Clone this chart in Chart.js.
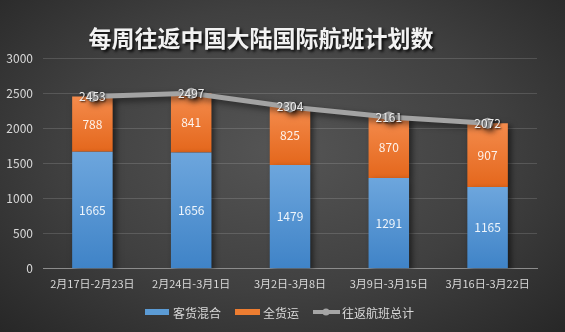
<!DOCTYPE html>
<html>
<head>
<meta charset="utf-8">
<script src="https://cdn.jsdelivr.net/npm/chart.js@4"></script>
<style>
  html, body { margin: 0; padding: 0; }
  body {
    width: 565px; height: 332px; overflow: hidden;
    background: radial-gradient(ellipse at 50% 45%, #555555 0%, #404040 55%, #272727 100%);
  }
</style>
</head>
<body>
<canvas id="flights" width="565" height="332"></canvas>
<script>
// Weekly round-trip international flights, mainland China
const weeks = ["2月17日-2月23日", "2月24日-3月1日", "3月2日-3月8日", "3月9日-3月15日", "3月16日-3月22日"];
const mixed = [1665, 1656, 1479, 1291, 1165];   // 客货混合
const cargo = [788, 841, 825, 870, 907];        // 全货运
const total = [2453, 2497, 2304, 2161, 2072];   // 往返航班总计
const yTicks = [0, 500, 1000, 1500, 2000, 2500, 3000];

const FONT = '"Noto Sans CJK SC", "Noto Sans", sans-serif';

// gradient for one stacked segment, light at its top, darker at its base
function segGrad(ctx, lo, hi, top, bottom) {
  const c = ctx.chart;
  const y = c.scales.y;
  if (!c.chartArea || !y || ctx.dataIndex === undefined) return top;
  const i = ctx.dataIndex;
  const y0 = y.getPixelForValue(hi[i]);
  const y1 = y.getPixelForValue(lo ? lo[i] : 0);
  if (!isFinite(y0) || !isFinite(y1)) return top;
  const g = c.ctx.createLinearGradient(0, y0, 0, y1);
  g.addColorStop(0, top);
  g.addColorStop(1, bottom);
  return g;
}

// drop shadow under bars and line
const shadowPlugin = {
  id: "shadows",
  beforeDatasetDraw(chart) {
    const ctx = chart.ctx;
    ctx.save();
    ctx.shadowColor = "rgba(0,0,0,0.55)";
    ctx.shadowBlur = 6;
    ctx.shadowOffsetX = 3;
    ctx.shadowOffsetY = 3;
  },
  afterDatasetDraw(chart) {
    chart.ctx.restore();
  }
};

// value labels, title and legend
const labelPlugin = {
  id: "labels",
  afterDraw(chart) {
    const ctx = chart.ctx;
    ctx.save();
    ctx.textAlign = "center";
    ctx.textBaseline = "middle";
    ctx.font = "12px " + FONT;

    [0, 1].forEach(di => {
      const meta = chart.getDatasetMeta(di);
      const vals = chart.data.datasets[di].data;
      meta.data.forEach((bar, i) => {
        ctx.fillStyle = "rgba(255,255,255,0.9)";
        ctx.fillText(vals[i], bar.x, (bar.y + bar.base) / 2);
      });
    });

    chart.getDatasetMeta(2).data.forEach((pt, i) => {
      ctx.shadowColor = "rgba(0,0,0,0.85)";
      ctx.shadowBlur = 2;
      ctx.shadowOffsetX = 1;
      ctx.shadowOffsetY = 1;
      ctx.fillStyle = "#ececec";
      ctx.fillText(total[i], pt.x, pt.y);
    });

    // title
    ctx.font = "bold 23px " + FONT;
    ctx.shadowColor = "rgba(0,0,0,0.9)";
    ctx.shadowBlur = 3;
    ctx.shadowOffsetX = 2;
    ctx.shadowOffsetY = 2;
    ctx.fillStyle = "#f2f2f2";
    ctx.fillText("每周往返中国大陆国际航班计划数", 261, 38);

    // legend
    ctx.shadowColor = "transparent";
    ctx.font = "12px " + FONT;
    ctx.textAlign = "left";
    ctx.fillStyle = "#5b9bd5";
    ctx.fillRect(145, 309, 24, 6);
    ctx.fillStyle = "#ed7d31";
    ctx.fillRect(235, 309, 25, 6);
    ctx.strokeStyle = "#a5a5a5";
    ctx.lineWidth = 4;
    ctx.beginPath();
    ctx.moveTo(313, 312);
    ctx.lineTo(340, 312);
    ctx.stroke();
    ctx.beginPath();
    ctx.arc(326, 312, 3.5, 0, Math.PI * 2);
    ctx.fillStyle = "#a5a5a5";
    ctx.fill();
    ctx.fillStyle = "#d9d9d9";
    ctx.fillText("客货混合", 173, 313);
    ctx.fillText("全货运", 263, 313);
    ctx.fillText("往返航班总计", 342, 313);
    ctx.restore();
  }
};

new Chart(document.getElementById("flights"), {
  type: "bar",
  data: {
    labels: weeks,
    datasets: [
      {
        label: "客货混合",
        data: mixed,
        stack: "s",
        order: 2,
        backgroundColor: ctx => segGrad(ctx, null, mixed, "#6da6dd", "#3f83c7"),
        barPercentage: 0.82,
        categoryPercentage: 0.5
      },
      {
        label: "全货运",
        data: cargo,
        stack: "s",
        order: 2,
        backgroundColor: ctx => segGrad(ctx, mixed, total, "#f48b4c", "#e4671c"),
        barPercentage: 0.82,
        categoryPercentage: 0.5
      },
      {
        type: "line",
        label: "往返航班总计",
        data: total,
        order: 1,
        borderColor: "#a3a3a3",
        backgroundColor: "#a3a3a3",
        borderWidth: 5,
        pointRadius: 3,
        pointBackgroundColor: "#a3a3a3",
        tension: 0
      }
    ]
  },
  options: {
    responsive: false,
    animation: false,
    layout: { padding: { top: 58, right: 28, left: 4, bottom: 42 } },
    plugins: {
      legend: { display: false },
      title: { display: false },
      tooltip: { enabled: false }
    },
    scales: {
      x: {
        stacked: true,
        grid: { display: false },
        border: { color: "#8c8c8c", width: 1 },
        ticks: { color: "#d9d9d9", font: { family: FONT, size: 11 }, maxRotation: 0, autoSkip: false, padding: 0 }
      },
      y: {
        stacked: true,
        min: 0,
        max: 3000,
        afterBuildTicks: axis => { axis.ticks = yTicks.map(v => ({ value: v })); },
        afterFit: axis => { axis.width = 39; },
        grid: { color: "rgba(255,255,255,0.14)", drawTicks: false },
        border: { display: false },
        ticks: { color: "#d9d9d9", font: { family: FONT, size: 12 }, padding: 10, callback: v => String(v) }
      }
    }
  },
  plugins: [shadowPlugin, labelPlugin]
});
</script>
</body>
</html>
